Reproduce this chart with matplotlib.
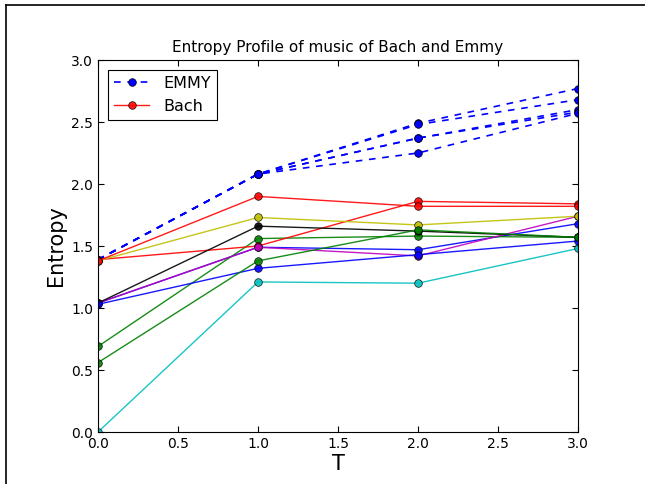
import numpy as np
import matplotlib
matplotlib.use("Agg")
import matplotlib.pyplot as plt
from matplotlib.lines import Line2D

T = [0, 1, 2, 3]

# Bach profiles, plotted in the old default colour cycle
bach = [
    [1.04, 1.49, 1.47, 1.68],
    [0.69, 1.56, 1.58, 1.57],
    [1.39, 1.50, 1.86, 1.84],
    [0.00, 1.21, 1.20, 1.48],
    [1.04, 1.49, 1.42, 1.74],
    [1.38, 1.73, 1.67, 1.74],
    [1.04, 1.66, 1.62, 1.57],
    [1.03, 1.32, 1.43, 1.54],
    [0.56, 1.38, 1.63, 1.57],
    [1.38, 1.90, 1.82, 1.82],
]
bach_colors = ['b', 'g', 'r', 'c', 'm', 'y', 'k', 'b', 'g', 'r']

# EMMY profiles
emmy = [
    [1.39, 2.08, 2.49, 2.77],
    [1.39, 2.08, 2.48, 2.68],
    [1.39, 2.08, 2.37, 2.60],
    [1.39, 2.08, 2.37, 2.58],
    [1.39, 2.08, 2.25, 2.57],
]

fig = plt.figure(figsize=(6.45, 4.84), dpi=100)
ax = fig.add_axes([98/645, 1 - 432/484, 480/645, 372/484])

for i, e in enumerate(emmy):
    ax.plot(T, e, 'o', ls=(0, (4, 4)), color='b', lw=1.2, ms=5.5, mec='k', mew=0.5,
            label='EMMY' if i == 0 else None)
for i, (b, c) in enumerate(zip(bach, bach_colors)):
    ax.plot(T, b, 'o-', color=c, lw=1, ms=5.5, mec='k', mew=0.5, alpha=0.9,
            label='Bach' if i == len(bach) - 1 else None)

ax.set_xlim(0, 3)
ax.set_ylim(0, 3)
ax.set_xticks(np.arange(0, 3.01, 0.5))
ax.set_yticks(np.arange(0, 3.01, 0.5))
ax.tick_params(direction='in', top=True, right=True, labelsize=10, length=4)
ax.set_title('Entropy Profile of music of Bach and Emmy', fontsize=11)
ax.set_xlabel('T', fontsize=15, labelpad=2)
ax.set_ylabel('Entropy', fontsize=15)

leg = ax.legend(loc='upper left', fontsize=11.5, fancybox=False, framealpha=1,
                edgecolor='k', borderaxespad=0.6, handlelength=2.2,
                handletextpad=0.9)
leg.get_frame().set_linewidth(0.8)

# screenshot frame lines
fig.add_artist(Line2D([6/645, 6/645], [0, 1 - 5/484], color='k', lw=1.2))
fig.add_artist(Line2D([6/645, 1], [1 - 5/484, 1 - 5/484], color='k', lw=1.2))

fig.savefig('out.png', dpi=100)
